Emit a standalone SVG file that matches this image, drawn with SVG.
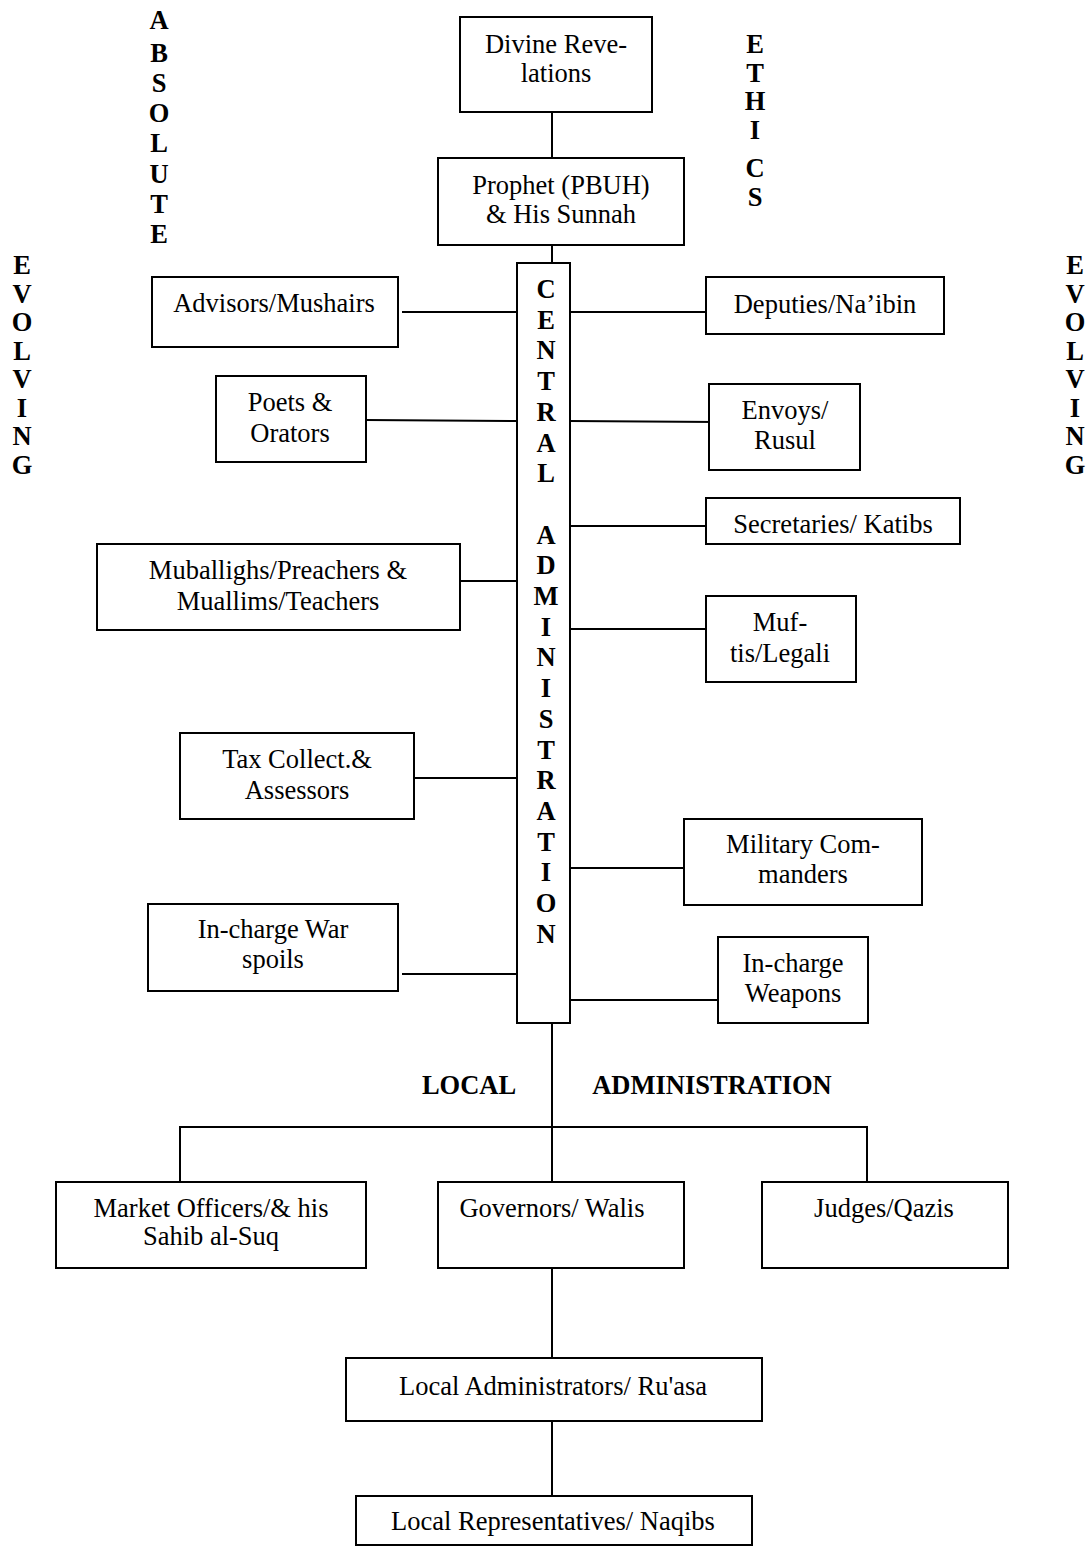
<svg xmlns="http://www.w3.org/2000/svg" width="1089" height="1546" viewBox="0 0 1089 1546">
<style>
.box{fill:#fff;stroke:#000;stroke-width:2}
.ln{stroke:#000;stroke-width:2;fill:none}
.t{font-family:"Liberation Serif","Times New Roman",serif;font-size:26.5px;fill:#000;text-anchor:middle}
.b{font-family:"Liberation Serif","Times New Roman",serif;font-size:26.5px;font-weight:bold;fill:#000;text-anchor:middle}
</style>
<rect width="1089" height="1546" fill="#fff"/>
<g id="connectors">
<line class="ln" x1="552" y1="112" x2="552" y2="159"/>
<line class="ln" x1="552" y1="245" x2="552" y2="263"/>
<line class="ln" x1="402" y1="312" x2="517" y2="312"/>
<line class="ln" x1="366" y1="420" x2="517" y2="421"/>
<line class="ln" x1="460" y1="581" x2="517" y2="581"/>
<line class="ln" x1="414" y1="778" x2="517" y2="778"/>
<line class="ln" x1="402" y1="974" x2="517" y2="974"/>
<line class="ln" x1="570" y1="312" x2="706" y2="312"/>
<line class="ln" x1="570" y1="421" x2="717" y2="422"/>
<line class="ln" x1="570" y1="526" x2="706" y2="526"/>
<line class="ln" x1="570" y1="629" x2="706" y2="629"/>
<line class="ln" x1="570" y1="868" x2="684" y2="868"/>
<line class="ln" x1="570" y1="1000" x2="718" y2="1000"/>
<line class="ln" x1="552" y1="1023" x2="552" y2="1182"/>
<polyline class="ln" points="180,1182 180,1127 867,1127 867,1182"/>
<line class="ln" x1="552" y1="1267" x2="552" y2="1358"/>
<line class="ln" x1="552" y1="1421" x2="552" y2="1496"/>
</g>
<g id="side-labels">
<text class="b" x="159" y="29" font-size="32">A</text>
<text class="b"><tspan x="159" y="62">B</tspan><tspan x="159" y="92">S</tspan><tspan x="159" y="122">O</tspan><tspan x="159" y="152">L</tspan><tspan x="159" y="183">U</tspan><tspan x="159" y="213">T</tspan><tspan x="159" y="243">E</tspan></text>
<text class="b"><tspan x="755" y="53">E</tspan><tspan x="755" y="82">T</tspan><tspan x="755" y="110">H</tspan><tspan x="755" y="139">I</tspan><tspan x="755" y="177">C</tspan><tspan x="755" y="206">S</tspan></text>
<text class="b"><tspan x="22" y="274">E</tspan><tspan x="22" y="302.5">V</tspan><tspan x="22" y="331">O</tspan><tspan x="22" y="359.5">L</tspan><tspan x="22" y="388">V</tspan><tspan x="22" y="416.5">I</tspan><tspan x="22" y="445">N</tspan><tspan x="22" y="473.5">G</tspan></text>
<text class="b"><tspan x="1075" y="274">E</tspan><tspan x="1075" y="302.5">V</tspan><tspan x="1075" y="331">O</tspan><tspan x="1075" y="359.5">L</tspan><tspan x="1075" y="388">V</tspan><tspan x="1075" y="416.5">I</tspan><tspan x="1075" y="445">N</tspan><tspan x="1075" y="473.5">G</tspan></text>
<text class="b" x="469" y="1094">LOCAL</text>
<text class="b" x="712" y="1094">ADMINISTRATION</text>
</g>
<g id="divine"><rect class="box" x="460" y="17" width="192" height="95"/><text class="t"><tspan x="556" y="53">Divine Reve-</tspan><tspan x="556" y="82">lations</tspan></text></g>
<g id="prophet"><rect class="box" x="438" y="158" width="246" height="87"/><text class="t"><tspan x="561" y="194">Prophet (PBUH)</tspan><tspan x="561" y="223">&amp; His Sunnah</tspan></text></g>
<g id="central"><rect class="box" x="517" y="263" width="53" height="760"/><text class="b"><tspan x="546" y="298">C</tspan><tspan x="546" dy="30.7">E</tspan><tspan x="546" dy="30.7">N</tspan><tspan x="546" dy="30.7">T</tspan><tspan x="546" dy="30.7">R</tspan><tspan x="546" dy="30.7">A</tspan><tspan x="546" dy="30.7">L</tspan><tspan x="546" dy="61.4">A</tspan><tspan x="546" dy="30.7">D</tspan><tspan x="546" dy="30.7">M</tspan><tspan x="546" dy="30.7">I</tspan><tspan x="546" dy="30.7">N</tspan><tspan x="546" dy="30.7">I</tspan><tspan x="546" dy="30.7">S</tspan><tspan x="546" dy="30.7">T</tspan><tspan x="546" dy="30.7">R</tspan><tspan x="546" dy="30.7">A</tspan><tspan x="546" dy="30.7">T</tspan><tspan x="546" dy="30.7">I</tspan><tspan x="546" dy="30.7">O</tspan><tspan x="546" dy="30.7">N</tspan></text></g>
<g id="advisors"><rect class="box" x="152" y="277" width="246" height="70"/><text class="t" x="274" y="312">Advisors/Mushairs</text></g>
<g id="poets"><rect class="box" x="216" y="376" width="150" height="86"/><text class="t"><tspan x="290" y="411">Poets &amp;</tspan><tspan x="290" y="442">Orators</tspan></text></g>
<g id="muballighs"><rect class="box" x="97" y="544" width="363" height="86"/><text class="t"><tspan x="278" y="579">Muballighs/Preachers &amp;</tspan><tspan x="278" y="610">Muallims/Teachers</tspan></text></g>
<g id="tax"><rect class="box" x="180" y="733" width="234" height="86"/><text class="t"><tspan x="297" y="768">Tax Collect.&amp;</tspan><tspan x="297" y="799">Assessors</tspan></text></g>
<g id="warspoils"><rect class="box" x="148" y="904" width="250" height="87"/><text class="t"><tspan x="273" y="938">In-charge War</tspan><tspan x="273" y="968">spoils</tspan></text></g>
<g id="deputies"><rect class="box" x="706" y="277" width="238" height="57"/><text class="t" x="825" y="313">Deputies/Na’ibin</text></g>
<g id="envoys"><rect class="box" x="709" y="384" width="151" height="86"/><text class="t"><tspan x="785" y="419">Envoys/</tspan><tspan x="785" y="449">Rusul</tspan></text></g>
<g id="secretaries"><rect class="box" x="706" y="498" width="254" height="46"/><text class="t" x="833" y="533">Secretaries/ Katibs</text></g>
<g id="muftis"><rect class="box" x="706" y="596" width="150" height="86"/><text class="t"><tspan x="780" y="631">Muf-</tspan><tspan x="780" y="662">tis/Legali</tspan></text></g>
<g id="military"><rect class="box" x="684" y="819" width="238" height="86"/><text class="t"><tspan x="803" y="853">Military Com-</tspan><tspan x="803" y="883">manders</tspan></text></g>
<g id="weapons"><rect class="box" x="718" y="937" width="150" height="86"/><text class="t"><tspan x="793" y="972">In-charge</tspan><tspan x="793" y="1002">Weapons</tspan></text></g>
<g id="market"><rect class="box" x="56" y="1182" width="310" height="86"/><text class="t"><tspan x="211" y="1217">Market Officers/&amp; his</tspan><tspan x="211" y="1245">Sahib al-Suq</tspan></text></g>
<g id="governors"><rect class="box" x="438" y="1182" width="246" height="86"/><text class="t" x="552" y="1217">Governors/ Walis</text></g>
<g id="judges"><rect class="box" x="762" y="1182" width="246" height="86"/><text class="t" x="884" y="1217">Judges/Qazis</text></g>
<g id="localadmin"><rect class="box" x="346" y="1358" width="416" height="63"/><text class="t" x="553" y="1395">Local Administrators/ Ru'asa</text></g>
<g id="localrep"><rect class="box" x="356" y="1496" width="396" height="49"/><text class="t" x="553" y="1530">Local Representatives/ Naqibs</text></g>
</svg>
